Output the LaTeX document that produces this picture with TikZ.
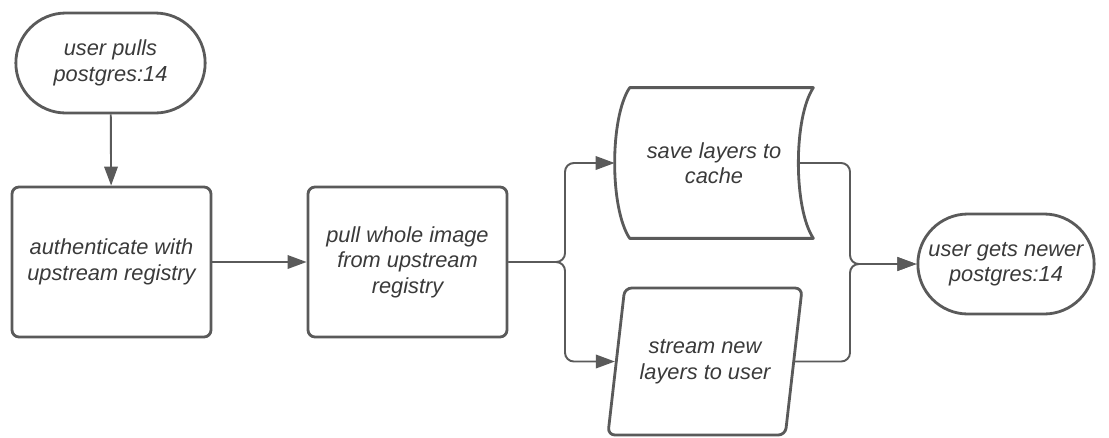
\documentclass[tikz,border=0pt]{standalone}
\usepackage{fontspec}
\setmainfont{Liberation Sans}
\usepackage{tikz}
\usetikzlibrary{arrows.meta}
\usetikzlibrary{shapes}
\usetikzlibrary{calc}

\definecolor{linegray}{HTML}{5A5A5A}
\definecolor{textgray}{HTML}{3A3A3A}

\begin{document}
\begin{tikzpicture}[
    every node/.style={align=center,text=textgray,font=\fontsize{12.4}{14.5}\selectfont\itshape},
    terminal/.style={rounded rectangle,draw=linegray,line width=1.6pt,minimum height=2cm},
    procbox/.style={rectangle,draw=linegray,line width=1.6pt,rounded corners=4pt,minimum width=3.98cm,minimum height=3cm},
    storebox/.style={rectangle,minimum width=3.96cm,minimum height=3cm},
    iobox/.style={trapezium,trapezium left angle=75,trapezium right angle=105,trapezium stretches,
      draw=linegray,line width=1.6pt,rounded corners=4pt,minimum width=3.92cm,minimum height=2.94cm},
    flow/.style={draw=linegray,line width=1.1pt,rounded corners=5pt,-{Triangle[length=0.38cm,width=0.27cm]}}
  ]
    \useasboundingbox (0,0) rectangle (22.18,-8.74);

    \node[terminal,minimum width=4.02cm] (start) at (2.21,-1.26) {user pulls\\postgres:14};
    \node[procbox] (auth) at (2.23,-5.24) {authenticate with\\upstream registry};
    \node[procbox] (pull) at (8.15,-5.24) {pull whole image\\from upstream\\registry};
    \node[storebox] (cache) at (14.28,-3.26) {save layers to\\cache};
    \node[iobox] (stream) at (14.1,-7.23) {stream new\\layers to user};
    \node[terminal,minimum width=3.76cm] (end) at (20.12,-5.28) {user gets newer\\postgres:14};

    % cache outline
    \draw[linegray,line width=1.6pt,line join=round]
      ([xshift=3mm]cache.north west) -- (cache.north east)
      .. controls ([shift={(-4mm,-6mm)}]cache.north east) and ([shift={(-4mm,6mm)}]cache.south east) .. (cache.south east)
      -- ([xshift=3mm]cache.south west)
      .. controls ([shift={(-1mm,6mm)}]cache.south west) and ([shift={(-1mm,-6mm)}]cache.north west) .. ([xshift=3mm]cache.north west)
      -- cycle;

    \coordinate (split) at (11.3,-5.24);
    \coordinate (merge) at (17.0,-5.28);
    \coordinate (cacheout) at ($(cache.east)+(-0.3,0)$);

    \draw[flow] (start) -- (auth);
    \draw[flow] (auth) -- (pull);
    \draw[flow] (pull.east) -- (split) |- (cache.west);
    \draw[flow] (pull.east) -- (split) |- (stream.west);
    \draw[flow] (cacheout) -| (merge) -- (end.west);
    \draw[flow] (stream.east) -| (merge) -- (end.west);
\end{tikzpicture}
\end{document}
